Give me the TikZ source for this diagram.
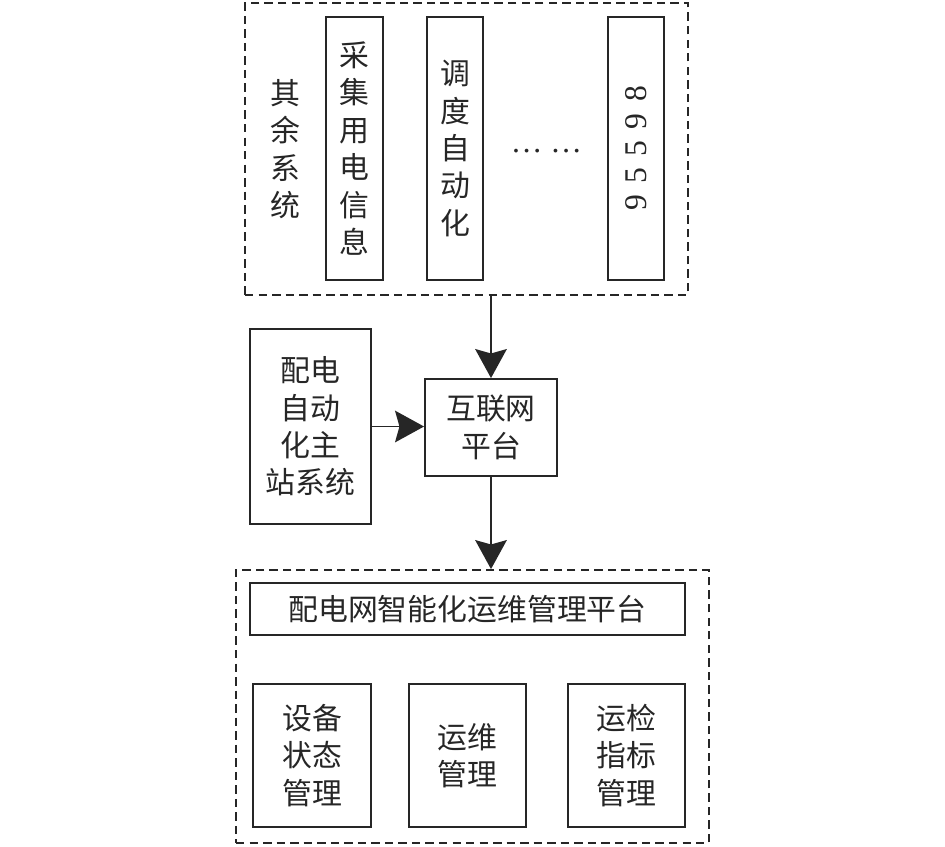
\documentclass[tikz,border=0pt]{standalone}
\usepackage{fontspec}
\newfontfamily\cjk{Noto Sans CJK SC}
\newfontfamily\numfont{Liberation Serif}
\usetikzlibrary{positioning, arrows.meta}

\begin{document}
\begin{tikzpicture}[x=0.02cm, y=-0.02cm,
    box/.style={draw=black!85, line width=1.1pt, align=center, inner sep=0pt,
        text=black!85, font=\cjk\fontsize{17}{21.3}\selectfont},
    group/.style={draw=black!85, line width=1.1pt, dash pattern=on 4.8pt off 2.9pt, inner sep=0pt},
    flow/.style={draw=black!85, line width=1pt, -{Stealth[length=16.5pt, width=18pt, inset=2.5pt]}}]
    \useasboundingbox (0,0) rectangle (945,846);

    % other systems
    \node[group, minimum width=8.86cm, minimum height=5.84cm] (others) at (466.5,149) {};
    \node[box, draw=none] (otherlbl) at (285,149) {其\\余\\系\\统};
    \node[box, minimum width=1.14cm, minimum height=5.26cm] (collect) at (354.5,148.5) {采\\集\\用\\电\\信\\息};
    \node[box, minimum width=1.12cm, minimum height=5.26cm] (dispatch) at (455,148.5) {调\\度\\自\\动\\化};
    \node[text=black!85, font=\numfont\fontsize{18}{18}\selectfont] (etc) at (546.5,151) {\dots\ \dots};
    \node[box, rotate=90, minimum width=5.26cm, minimum height=1.12cm,
        font=\numfont\fontsize{18}{18}\selectfont] (hotline) at (636,148.5)
        {9\hspace{6.5pt}5\hspace{6.5pt}5\hspace{6.5pt}9\hspace{6.5pt}8};

    % middle row
    \node[box, minimum width=2.42cm, minimum height=3.9cm] (master) at (310.5,426.5) {配电\\自动\\化主\\站系统};
    \node[box, minimum width=2.64cm, minimum height=1.94cm] (web) at (491,427.5) {互联网\\平台};

    % platform
    \node[group, minimum width=9.46cm, minimum height=5.46cm] (ops) at (472.5,706.5) {};
    \node[box, minimum width=8.7cm, minimum height=1.04cm] (title) at (467.5,609) {配电网智能化运维管理平台};
    \node[box, minimum width=2.36cm, minimum height=2.86cm] (state) at (312,755.5) {设备\\状态\\管理};
    \node[box, minimum width=2.34cm, minimum height=2.86cm] (maint) at (467.5,755.5) {运维\\管理};
    \node[box, minimum width=2.34cm, minimum height=2.86cm] (index) at (626.5,755.5) {运检\\指标\\管理};

    \draw[flow] (others.south -| web.north) -- (web.north);
    \draw[flow] (master.east) -- (master.east -| web.west);
    \draw[flow] (web.south) -- (web.south |- ops.north);
\end{tikzpicture}
\end{document}
